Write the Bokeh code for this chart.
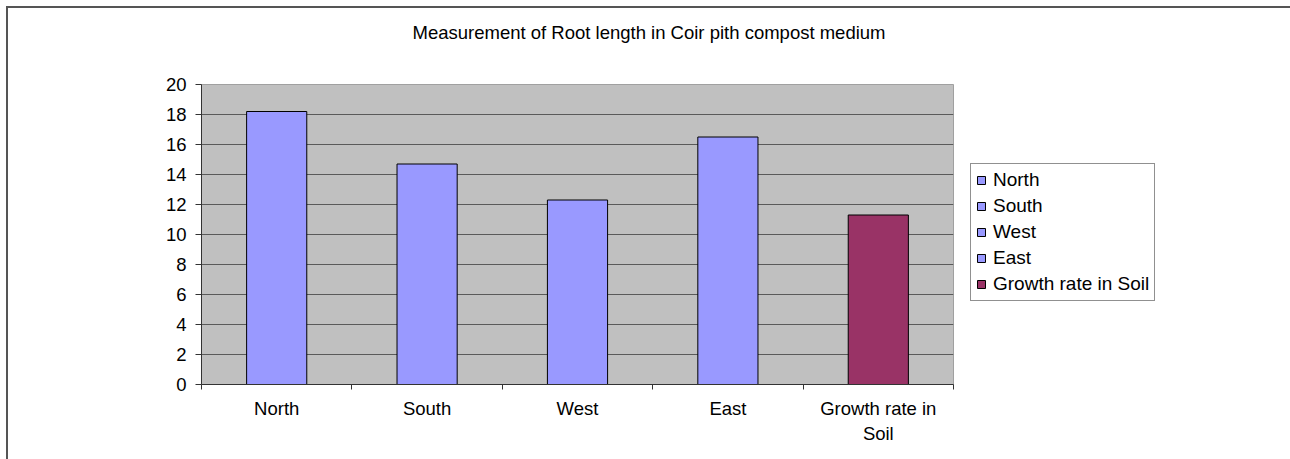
from bokeh.plotting import figure
from bokeh.layouts import row
from bokeh.models import FixedTicker, Legend, LegendItem, Title, Range1d
from bokeh.embed import file_html
from bokeh.resources import INLINE

categories = ["North", "South", "West", "East", "Growth rate in Soil"]
tick_labels = ["North", "South", "West", "East", "Growth rate in\nSoil"]
root_length = [18.2, 14.7, 12.3, 16.5, 11.3]
bar_colors = ["#9999FF", "#9999FF", "#9999FF", "#9999FF", "#993366"]
y_ticks = [0, 2, 4, 6, 8, 10, 12, 14, 16, 18, 20]
title_text = "Measurement of Root length in Coir pith compost medium"

FONT = "Liberation Sans"
FS = "18.5px"
W_MAIN, H = 955, 459

p = figure(width=W_MAIN, height=H, output_backend="svg", toolbar_location=None,
           x_range=Range1d(0, len(categories)), y_range=Range1d(0, 20),
           min_border_left=201, min_border_right=2, min_border_top=84,
           min_border_bottom=75)
p.background_fill_color = "#C0C0C0"
p.border_fill_alpha = 0
p.outline_line_color = "#a0a0a0"

xs = [i + 0.5 for i in range(len(categories))]
bounds = [i for i in range(len(categories) + 1)]

# x axis
xa = p.xaxis[0]
xa.ticker = FixedTicker(ticks=xs, minor_ticks=bounds)
xa.major_label_overrides = {x: lbl for x, lbl in zip(xs, tick_labels)}
xa.major_tick_out = 0
xa.major_tick_in = 0
xa.minor_tick_out = 5
xa.minor_tick_in = 0
xa.minor_tick_line_color = "#333333"
xa.axis_line_color = "#333333"
xa.major_label_standoff = 8
xa.major_label_text_font = FONT
xa.major_label_text_font_size = FS
xa.major_label_text_color = "black"

# y axis
ya = p.yaxis[0]
ya.ticker = FixedTicker(ticks=y_ticks)
ya.major_tick_out = 6
ya.major_tick_in = 0
ya.minor_tick_out = 0
ya.minor_tick_in = 0
ya.major_tick_line_color = "#333333"
ya.axis_line_color = "#333333"
ya.major_label_standoff = 9
ya.major_label_text_font = FONT
ya.major_label_text_font_size = FS
ya.major_label_text_color = "black"

p.xgrid.visible = False
p.ygrid.ticker = FixedTicker(ticks=y_ticks)
p.ygrid.grid_line_color = "#5a5a5a"
p.ygrid.grid_line_width = 1

for i in range(len(categories)):
    p.vbar(x=[xs[i]], top=[root_length[i]], width=0.4,
           fill_color=bar_colors[i], line_color="black", line_width=1)

# title: a spacer panel next to the frame, then the real title above it
spacer = Title(text=" ", text_font_size="2px", standoff=38)
p.add_layout(spacer, "above")
title = Title(text=title_text, align="left", offset=211, standoff=0,
              text_font=FONT, text_font_size=FS, text_color="black",
              text_font_style="normal")
p.add_layout(title, "above")

# legend figure (its bars lie outside its visible range; only the legend shows)
p2 = figure(width=1290 - W_MAIN, height=H, output_backend="svg",
            toolbar_location=None, x_range=Range1d(-20, -19), y_range=Range1d(0, 20),
            min_border=0)
p2.axis.visible = False
p2.grid.visible = False
p2.outline_line_color = None
p2.background_fill_alpha = 0
p2.border_fill_alpha = 0

items = []
for i in range(len(categories)):
    r = p2.vbar(x=[xs[i]], top=[root_length[i]], width=0.4,
                fill_color=bar_colors[i], line_color="black", line_width=1)
    items.append(LegendItem(label=categories[i], renderers=[r]))

legend = Legend(items=items, location=(15, 83))
legend.border_line_color = "#222222"
legend.border_line_width = 1
legend.background_fill_color = "white"
legend.background_fill_alpha = 1
legend.label_text_font = FONT
legend.label_text_font_size = "19px"
legend.label_text_color = "black"
legend.glyph_width = 10
legend.glyph_height = 10
legend.label_height = 21
legend.label_standoff = 7
legend.spacing = 4
legend.padding = 5
legend.margin = 0
p2.add_layout(legend, "center")

page = row(p, p2, width=1290, height=H, styles={
    "background": "linear-gradient(#555555, #555555) 6px 6px / 100% 2px no-repeat, "
                  "linear-gradient(#555555, #555555) 6px 6px / 2px 100% no-repeat, white",
})

open("out.html", "w").write(file_html(page, INLINE))
